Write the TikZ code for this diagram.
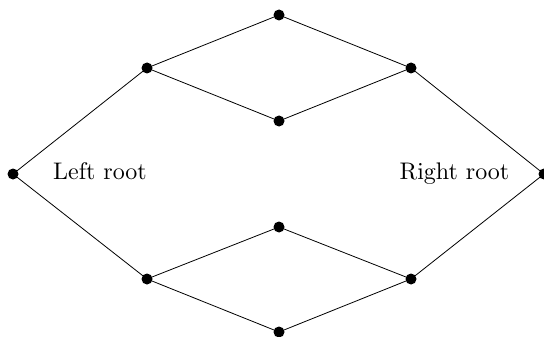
\documentclass[tikz,border=0pt]{standalone}
\font\lblfont=cmr10 at 24pt
\begin{document}
\begin{tikzpicture}[x=1pt,y=-1pt,
  dot/.style={circle,fill=black,inner sep=0pt,minimum size=11pt},
  edge/.style={line width=0.8pt},
  lbl/.style={font=\lblfont,inner sep=0pt,anchor=base}]
\useasboundingbox (0,0) rectangle (544,337);
\node[dot] (L) at (13,174) {};
\node[dot] (R) at (544,174) {};
\node[dot] (UL) at (147,68) {};
\node[dot] (T) at (279,15) {};
\node[dot] (UM) at (279,121) {};
\node[dot] (UR) at (411,68) {};
\node[dot] (LL) at (147,279) {};
\node[dot] (LM) at (279,227) {};
\node[dot] (B) at (279,332) {};
\node[dot] (LR) at (411,279) {};
\node[lbl] (lt) at (100,179) {Left root};
\node[lbl] (rt) at (454.5,179) {Right root};
\draw[edge] (L.center) -- (UL.center) -- (T.center) -- (UR.center) -- (R.center);
\draw[edge] (UL.center) -- (UM.center) -- (UR.center);
\draw[edge] (L.center) -- (LL.center) -- (LM.center) -- (LR.center) -- (R.center);
\draw[edge] (LL.center) -- (B.center) -- (LR.center);
\end{tikzpicture}
\end{document}
